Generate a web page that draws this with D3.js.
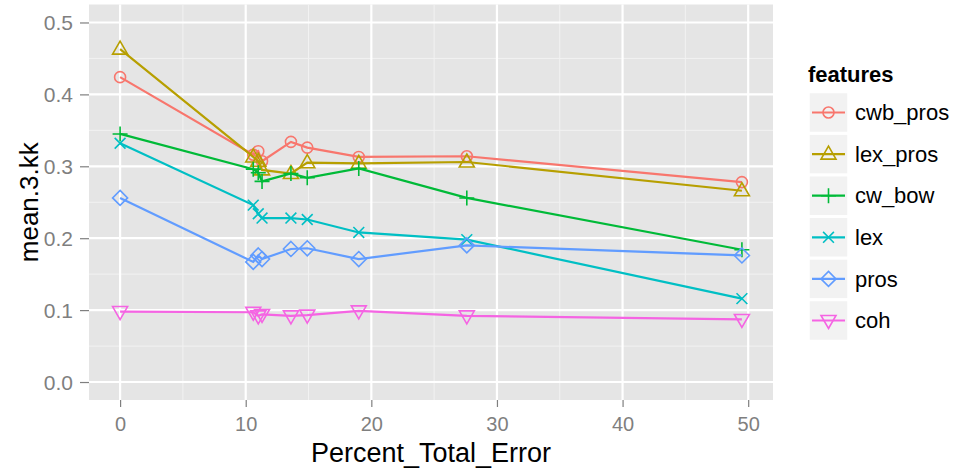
<!DOCTYPE html>
<html>
<head>
<meta charset="utf-8">
<script src="https://cdn.jsdelivr.net/npm/d3@7"></script>
<style>
  body { margin: 0; background: #fff; }
  text { font-family: "Liberation Sans", Arial, sans-serif; }
</style>
</head>
<body>
<div id="chart"></div>
<script>
// data
var xVals = [0, 10.6, 11.0, 11.3, 13.6, 14.9, 19.0, 27.6, 49.5];
var features = ["cwb_pros", "lex_pros", "cw_bow", "lex", "pros", "coh"];
var cwbPros = [0.424, 0.316, 0.321, 0.307, 0.334, 0.326, 0.313, 0.314, 0.278];
var lexPros = [0.463, 0.313, 0.307, 0.295, 0.290, 0.305, 0.304, 0.306, 0.266];
var cwBow   = [0.345, 0.296, 0.291, 0.279, 0.290, 0.284, 0.297, 0.256, 0.184];
var lex     = [0.332, 0.246, 0.234, 0.228, 0.228, 0.226, 0.208, 0.198, 0.116];
var pros    = [0.256, 0.167, 0.176, 0.171, 0.185, 0.186, 0.171, 0.190, 0.176];
var coh     = [0.098, 0.097, 0.092, 0.094, 0.092, 0.093, 0.099, 0.092, 0.087];
var xTicks = [0, 10, 20, 30, 40, 50];
var yTicks = [0, 0.1, 0.2, 0.3, 0.4, 0.5];

var seriesVals = [cwbPros, lexPros, cwBow, lex, pros, coh];
var colors = ["#F8766D", "#B79F00", "#00BA38", "#00BFC4", "#619CFF", "#F564E3"];
var shapes = ["circle", "triangle", "plus", "cross", "diamond", "down"];

var width = 957, height = 475;
var panel = {left: 89, right: 773, top: 4.5, bottom: 400};

var x = d3.scaleLinear().domain([-2.475, 51.975]).range([panel.left, panel.right]);
var y = d3.scaleLinear().domain([-0.025, 0.525]).range([panel.bottom, panel.top]);

var svg = d3.select('#chart').append('svg')
	.attr('width', width).attr('height', height);

// panel background
svg.append('rect')
	.attr('x', panel.left).attr('y', panel.top)
	.attr('width', panel.right - panel.left).attr('height', panel.bottom - panel.top)
	.style('fill', '#E5E5E5');

// minor grid
var xMinor = [5, 15, 25, 35, 45];
var yMinor = [0.05, 0.15, 0.25, 0.35, 0.45];
svg.selectAll('.xminor').data(xMinor).enter().append('line')
	.attr('x1', function(d) { return x(d); }).attr('x2', function(d) { return x(d); })
	.attr('y1', panel.top).attr('y2', panel.bottom)
	.style('stroke', '#F2F2F2').style('stroke-width', 1);
svg.selectAll('.yminor').data(yMinor).enter().append('line')
	.attr('y1', function(d) { return y(d); }).attr('y2', function(d) { return y(d); })
	.attr('x1', panel.left).attr('x2', panel.right)
	.style('stroke', '#F2F2F2').style('stroke-width', 1);

// major grid
svg.selectAll('.xmajor').data(xTicks).enter().append('line')
	.attr('x1', function(d) { return x(d); }).attr('x2', function(d) { return x(d); })
	.attr('y1', panel.top).attr('y2', panel.bottom)
	.style('stroke', '#fff').style('stroke-width', 2.2);
svg.selectAll('.ymajor').data(yTicks).enter().append('line')
	.attr('y1', function(d) { return y(d); }).attr('y2', function(d) { return y(d); })
	.attr('x1', panel.left).attr('x2', panel.right)
	.style('stroke', '#fff').style('stroke-width', 2.2);

// axes
var xAxis = svg.append('g')
	.attr('transform', 'translate(0,' + panel.bottom + ')')
	.call(d3.axisBottom(x).tickValues(xTicks).tickSize(7).tickPadding(5).tickFormat(d3.format('d')));
var yAxis = svg.append('g')
	.attr('transform', 'translate(' + panel.left + ',0)')
	.call(d3.axisLeft(y).tickValues(yTicks).tickSize(9).tickPadding(7).tickFormat(d3.format('.1f')));
[xAxis, yAxis].forEach(function(a) {
	a.select('.domain').remove();
	a.selectAll('line').style('stroke', '#7F7F7F').style('stroke-width', 1.2);
	a.selectAll('text').style('fill', '#7F7F7F')
		.style('font-family', '"Liberation Sans", Arial, sans-serif');
});
yAxis.selectAll('text').attr('dy', '0.35em').style('font-size', '21px');
xAxis.selectAll('text').attr('dy', '0.95em').style('font-size', '20px');

// axis titles
svg.append('text')
	.attr('x', (panel.left + panel.right) / 2).attr('y', 462)
	.attr('text-anchor', 'middle')
	.style('font-size', '27px').style('fill', '#000')
	.text('Percent_Total_Error');
svg.append('text')
	.attr('transform', 'translate(38,' + (panel.top + panel.bottom) / 2 + ') rotate(-90)')
	.attr('text-anchor', 'middle')
	.style('font-size', '26px').style('fill', '#000')
	.text('mean.3.kk');

function shapePath(shape) {
	var s = 6.2;
	if (shape === 'circle') return d3.symbol().type(d3.symbolCircle).size(Math.PI * 5.5 * 5.5)();
	if (shape === 'triangle') return 'M0,' + (-s - 1.8) + 'L' + (s + 1.3) + ',' + (s - 1.2) + 'L' + (-s - 1.3) + ',' + (s - 1.2) + 'Z';
	if (shape === 'down') return 'M0,' + (s + 1.8) + 'L' + (s + 1.3) + ',' + (-s + 1.2) + 'L' + (-s - 1.3) + ',' + (-s + 1.2) + 'Z';
	if (shape === 'plus') return 'M' + (-s - 1.3) + ',0L' + (s + 1.3) + ',0M0,' + (-s - 1.3) + 'L0,' + (s + 1.3);
	if (shape === 'cross') return 'M' + (-s + 0.8) + ',' + (-s + 0.8) + 'L' + (s - 0.8) + ',' + (s - 0.8) + 'M' + (-s + 0.8) + ',' + (s - 0.8) + 'L' + (s - 0.8) + ',' + (-s + 0.8);
	if (shape === 'diamond') return 'M0,' + (-s - 1.3) + 'L' + (s + 1.3) + ',0L0,' + (s + 1.3) + 'L' + (-s - 1.3) + ',0Z';
}

var line = d3.line()
	.x(function(d) { return x(d.x); })
	.y(function(d) { return y(d.y); });

features.forEach(function(f, i) {
	var pts = xVals.map(function(xv, j) { return {x: xv, y: seriesVals[i][j]}; });
	var g = svg.append('g').attr('class', 'series');
	g.append('path').datum(pts)
		.attr('d', line)
		.style('fill', 'none').style('stroke', colors[i]).style('stroke-width', 2.2);
	g.selectAll('.pt').data(pts).enter().append('path')
		.attr('transform', function(d) { return 'translate(' + x(d.x) + ',' + y(d.y) + ')'; })
		.attr('d', shapePath(shapes[i]))
		.style('fill', 'none').style('stroke', colors[i]).style('stroke-width', 1.6);
});

// legend
var legend = svg.append('g').attr('transform', 'translate(808,0)');
legend.append('text')
	.attr('x', 0).attr('y', 82)
	.style('font-size', '22px').style('font-weight', 'bold').style('fill', '#000')
	.text('features');
features.forEach(function(f, i) {
	var cy = 112.5 + i * 41.6;
	var k = legend.append('g').attr('transform', 'translate(0,' + cy + ')');
	k.append('rect').attr('x', 1).attr('y', -20).attr('width', 39).attr('height', 40)
		.style('fill', '#F2F2F2').style('stroke', '#fff').style('stroke-width', 1.5);
	k.append('line').attr('x1', 4).attr('x2', 37).attr('y1', 0).attr('y2', 0)
		.style('stroke', colors[i]).style('stroke-width', 2.2);
	k.append('path').attr('transform', 'translate(20.5,0)')
		.attr('d', shapePath(shapes[i]))
		.style('fill', 'none').style('stroke', colors[i]).style('stroke-width', 1.6);
	k.append('text').attr('x', 47).attr('y', 0).attr('dy', '0.35em')
		.style('font-size', '22px').style('fill', '#000')
		.text(f);
});
</script>
</body>
</html>
